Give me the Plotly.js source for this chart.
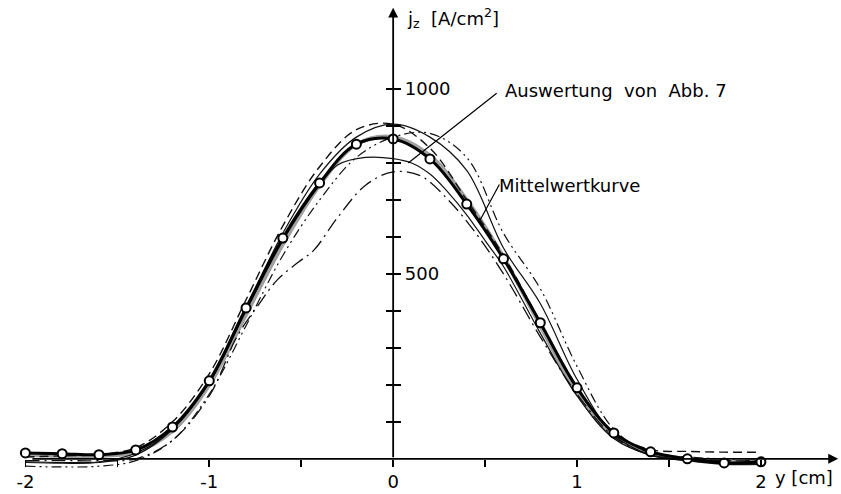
<!DOCTYPE html>
<html>
<head>
<meta charset="utf-8">
<script src="https://cdn.plot.ly/plotly-3.0.1.min.js"></script>
<style>html,body{margin:0;padding:0;background:#fff;}#chart{width:841px;height:494px;}</style>
</head>
<body>
<div id="chart"></div>
<script>
// Mittelwertkurve (mean curve, with open circles)
const meanX = [-2,-1.8,-1.6,-1.4,-1.2,-1.0,-0.8,-0.6,-0.4,-0.2,0,0.2,0.4,0.6,0.8,1.0,1.2,1.4,1.6,1.8,2.0];
const meanY = [16,14,11,24,86,211,408,597,746,851,865,811,689,541,368,192,70,19,0,-11,-8];

// grey broad curve
const greyX = [-2,-1.8,-1.6,-1.4,-1.2,-1.0,-0.8,-0.6,-0.4,-0.2,0,0.2,0.4,0.6,0.8,1.0,1.2,1.4,1.6,1.8,2.0];
const greyY = [10,8,8,18,75,200,390,580,740,850,870,820,700,545,360,180,60,15,0,-8,-8];

// dashed curve
const dashX = [-2,-1.8,-1.6,-1.4,-1.2,-1.0,-0.8,-0.6,-0.4,-0.2,0,0.2,0.4,0.6,0.8,1.0,1.2,1.4,1.6,1.8,2.0];
const dashY = [5,8,12,30,100,230,430,630,790,890,905,840,700,550,370,195,70,25,20,18,18];

// upper thin solid curve
const solid1X = [-2,-1.8,-1.6,-1.4,-1.2,-1.0,-0.8,-0.6,-0.4,-0.2,0,0.2,0.4,0.6,0.8,1.0,1.2,1.4,1.6,1.8,2.0];
const solid1Y = [-10,-12,-10,10,80,210,410,610,770,870,905,870,780,570,420,215,65,10,-5,-15,-15];

// dash-dot-dot curve
const ddotX = [-2,-1.8,-1.6,-1.4,-1.2,-1.0,-0.8,-0.6,-0.4,-0.2,0,0.2,0.4,0.6,0.8,1.0,1.2,1.4,1.6,1.8,2.0];
const ddotY = [-20,-22,-20,-5,50,175,360,550,700,815,870,880,815,610,460,250,80,15,5,0,0];

// "Auswertung von Abb. 7" thin solid curve
const abb7X = [-2,-1.8,-1.6,-1.4,-1.2,-1.0,-0.8,-0.6,-0.4,-0.3,-0.15,0,0.1,0.2,0.3,0.4,0.5,0.6,0.8,1.0,1.2,1.4,1.6,1.8,2.0];
const abb7Y = [-8,-10,-8,15,80,205,400,590,740,795,815,812,800,770,720,660,590,520,340,170,55,10,-5,-12,-12];

// dash-dot curve (lowest peak)
const dotX = [-2,-1.8,-1.6,-1.4,-1.2,-1.0,-0.85,-0.74,-0.63,-0.52,-0.43,-0.3,-0.15,0,0.15,0.3,0.45,0.6,0.8,1.0,1.2,1.4,1.6,1.8,2.0];
const dotY = [-5,-5,-5,0,50,170,330,411,484,530,565,654,740,776,765,700,610,500,330,175,60,10,0,-5,-5];

// axis ticks
const xTickVals = [-2,-1.5,-1,-0.5,0,0.5,1,1.5,2];
const xTickText = ["-2","","-1","","0","","1","","2"];
const yTickVals = [100,200,300,400,500,600,700,800,900,1000];
const yTickText = ["","","","","500","","","","","1000"];

const XR = [-2.1, 2.43];
const YR = [-60, 1230];
const xPos = (0 - YR[0]) / (YR[1] - YR[0]);
const yPos = (0 - XR[0]) / (XR[1] - XR[0]);

const traces = [
  {x: greyX, y: greyY, mode: 'lines', line: {color: 'rgba(120,120,120,0.7)', width: 4, shape: 'spline'}, hoverinfo: 'skip'},
  {x: dashX, y: dashY, mode: 'lines', line: {color: '#111', width: 1.4, dash: '9px,5px', shape: 'spline'}},
  {x: solid1X, y: solid1Y, mode: 'lines', line: {color: '#111', width: 1.2, shape: 'spline'}},
  {x: ddotX, y: ddotY, mode: 'lines', line: {color: '#111', width: 1.2, dash: '10px,4px,2px,4px,2px,4px', shape: 'spline'}},
  {x: abb7X, y: abb7Y, mode: 'lines', line: {color: '#111', width: 1.2, shape: 'spline'}},
  {x: dotX, y: dotY, mode: 'lines', line: {color: '#111', width: 1.3, dash: '14px,5px,2px,5px', shape: 'spline'}},
  {x: meanX, y: meanY, mode: 'lines+markers', line: {color: '#000', width: 3, shape: 'spline'},
   marker: {symbol: 'circle', size: 9, color: '#fff', line: {color: '#000', width: 2}}},
  {x: [0], y: [0], yaxis: 'y2', mode: 'markers', marker: {opacity: 0}, hoverinfo: 'skip'}
];

const fontFam = 'DejaVu Sans, sans-serif';

const layout = {
  width: 841, height: 494,
  margin: {l: 7, r: 1, t: 4, b: 13},
  paper_bgcolor: '#fff', plot_bgcolor: '#fff',
  showlegend: false,
  font: {family: fontFam, size: 18, color: '#000'},
  xaxis: {
    range: XR, showgrid: false, zeroline: false, showline: false,
    anchor: 'free', position: xPos,
    tickmode: 'array', tickvals: xTickVals, ticktext: xTickText,
    ticks: 'outside', ticklen: 7, tickwidth: 1.6, tickcolor: '#000',
    tickfont: {size: 18, family: fontFam}
  },
  yaxis: {
    range: YR, showgrid: false, zeroline: false, showline: false,
    anchor: 'free', position: yPos, side: 'right',
    tickmode: 'array', tickvals: yTickVals, ticktext: yTickText,
    ticks: 'outside', ticklen: 7, tickwidth: 1.6, tickcolor: '#000',
    tickfont: {size: 18, family: fontFam}
  },
  yaxis2: {
    range: YR, overlaying: 'y', showgrid: false, zeroline: false, showline: false,
    anchor: 'free', position: yPos, side: 'right',
    tickmode: 'array', tickvals: yTickVals, ticktext: yTickText, showticklabels: false,
    ticks: 'inside', ticklen: 7, tickwidth: 1.6, tickcolor: '#000'
  },
  annotations: [
    // x axis arrow
    {x: 2.42, y: 0, ax: -1.97, ay: 0, xref: 'x', yref: 'y', axref: 'x', ayref: 'y',
     text: '', showarrow: true, arrowhead: 2, arrowsize: 1.1, arrowwidth: 1.8, arrowcolor: '#000', standoff: 0},
    // y axis arrow
    {x: 0, y: 1220, ax: 0, ay: 0, xref: 'x', yref: 'y', axref: 'x', ayref: 'y',
     text: '', showarrow: true, arrowhead: 2, arrowsize: 1.1, arrowwidth: 1.8, arrowcolor: '#000', standoff: 0},
    // axis titles
    {x: 0.065, y: 1192, xref: 'x', yref: 'y', xanchor: 'left', yanchor: 'middle', showarrow: false,
     text: 'j<sub>z</sub>  [A/cm<sup>2</sup>]', font: {size: 18, family: fontFam}},
    {x: 2.405, y: -50, xref: 'x', yref: 'y', xanchor: 'right', yanchor: 'middle', showarrow: false,
     text: 'y [cm]', font: {size: 18, family: fontFam}},
    // labels with leader lines
    {x: 0.598, y: 997, xref: 'x', yref: 'y', xanchor: 'left', yanchor: 'middle', showarrow: false,
     text: 'Auswertung  von  Abb. 7', font: {size: 18, family: fontFam}},
    {x: 0.082, y: 800, ax: 0.571, ay: 992, xref: 'x', yref: 'y', axref: 'x', ayref: 'y',
     text: '', showarrow: true, arrowhead: 0, arrowwidth: 1.2, arrowcolor: '#000', standoff: 0},
    {x: 0.566, y: 740, xref: 'x', yref: 'y', xanchor: 'left', yanchor: 'middle', showarrow: false,
     text: 'Mittelwertkurve', font: {size: 18, family: fontFam}},
    {x: 0.473, y: 646, ax: 0.582, ay: 746, xref: 'x', yref: 'y', axref: 'x', ayref: 'y',
     text: '', showarrow: true, arrowhead: 0, arrowwidth: 1.2, arrowcolor: '#000', standoff: 0}
  ]
};

Plotly.newPlot('chart', traces, layout, {displayModeBar: false, staticPlot: true});
</script>
</body>
</html>
